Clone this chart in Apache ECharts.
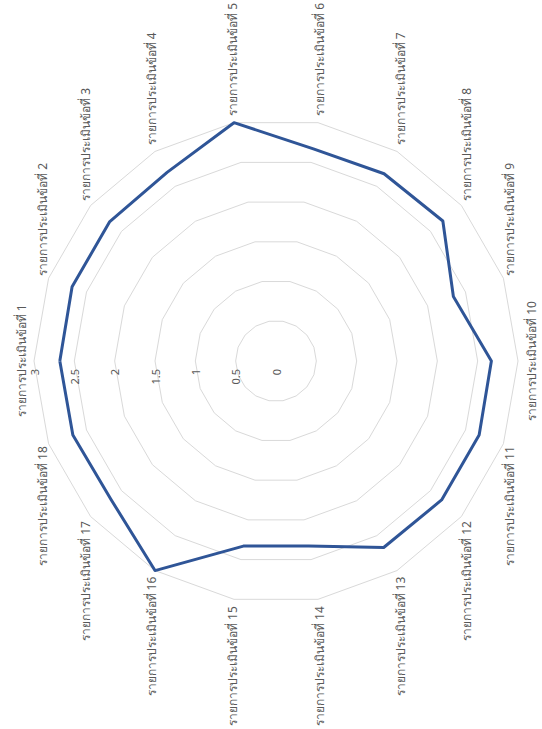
<!DOCTYPE html>
<html>
<head>
<meta charset="utf-8">
<style>
  html, body { margin: 0; padding: 0; width: 542px; height: 729px; overflow: hidden; background: #fff; }
  /* chart is laid out landscape, then turned a quarter turn counter-clockwise */
  #chart {
    position: absolute; left: 0; top: 0;
    width: 729px; height: 542px;
    transform-origin: 0 0;
    transform: translateY(729px) rotate(-90deg);
  }
</style>
<script src="https://cdn.jsdelivr.net/npm/echarts@6/dist/echarts.min.js"></script>
</head>
<body>
<div id="chart"></div>
<script>
// assessment items, in reading order (clockwise from the top)
const categories = [
  'รายการประเมินข้อที่ 1', 'รายการประเมินข้อที่ 2', 'รายการประเมินข้อที่ 3',
  'รายการประเมินข้อที่ 4', 'รายการประเมินข้อที่ 5', 'รายการประเมินข้อที่ 6',
  'รายการประเมินข้อที่ 7', 'รายการประเมินข้อที่ 8', 'รายการประเมินข้อที่ 9',
  'รายการประเมินข้อที่ 10', 'รายการประเมินข้อที่ 11', 'รายการประเมินข้อที่ 12',
  'รายการประเมินข้อที่ 13', 'รายการประเมินข้อที่ 14', 'รายการประเมินข้อที่ 15',
  'รายการประเมินข้อที่ 16', 'รายการประเมินข้อที่ 17', 'รายการประเมินข้อที่ 18'
];
// mean score per item
const scores = [2.68, 2.69, 2.69, 2.7, 3.0, 2.67, 2.68, 2.7, 2.34, 2.67, 2.68, 2.68, 2.67, 2.33, 2.33, 3.0, 2.67, 2.68];
const scaleMin = 0;
const scaleMax = 3;
const scaleStep = 0.5;

// ECharts lays radar axes counter-clockwise, so walk the items backwards after the first
const order = [0].concat(categories.map((_, i) => i).slice(1).reverse());

const indicator = order.map((i, k) => {
  const ind = { name: categories[i], min: scaleMin, max: scaleMax };
  if (k === 0) ind.axisLabel = { show: true };
  return ind;
});
const values = order.map(i => scores[i]);

const chart = echarts.init(document.getElementById('chart'), null, { renderer: 'svg' });
chart.setOption({
  animation: false,
  backgroundColor: '#ffffff',
  radar: {
    center: [368, 276],
    radius: 242,
    startAngle: 90,
    shape: 'polygon',
    splitNumber: Math.round((scaleMax - scaleMin) / scaleStep),
    indicator: indicator,
    axisName: {
      color: '#595959',
      fontSize: 12,
      fontFamily: 'Noto Sans, sans-serif'
    },
    nameGap: 7,
    axisLine: { show: false },
    axisTick: { show: false },
    splitArea: { show: false },
    splitLine: { lineStyle: { color: '#d9d9d9', width: 1 } },
    axisLabel: {
      show: false,
      color: '#595959',
      fontSize: 11,
      fontFamily: 'Noto Sans, sans-serif',
      margin: 8,
      showMinLabel: true,
      showMaxLabel: true
    }
  },
  series: [{
    type: 'radar',
    symbol: 'none',
    lineStyle: { color: '#2f5597', width: 3 },
    data: [{ value: values, name: 'คะแนนเฉลี่ย' }]
  }]
});
</script>
</body>
</html>
